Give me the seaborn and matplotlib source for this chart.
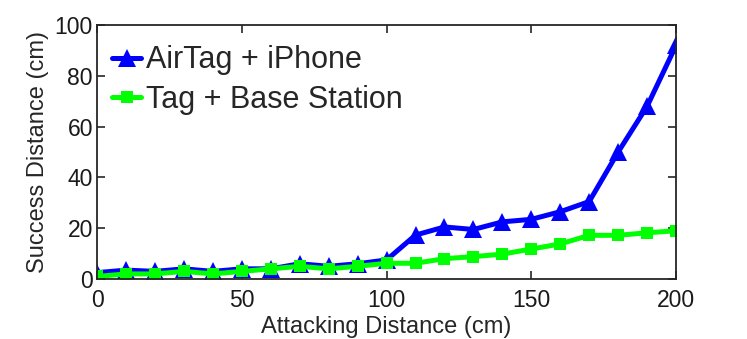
import pandas as pd
import seaborn as sns
import matplotlib.pyplot as plt

# Data
distance = [0, 10, 20, 30, 40, 50, 60, 70, 80, 90, 100,
            110, 120, 130, 140, 150, 160, 170, 180, 190, 200]
airtag_iphone = [2.5, 3.5, 3, 4, 3, 4, 4, 6, 5, 6, 7.5,
                 17.3, 20.5, 19.5, 22.5, 23.5, 26.5, 30.5, 50, 68, 92]
tag_base = [1, 2, 2, 3, 2, 3, 4, 5, 4, 5, 6.2,
            6.2, 8, 8.8, 9.8, 11.8, 13.8, 17.2, 17.2, 18.2, 19]
series_names = ["AirTag + iPhone", "Tag + Base Station"]

df = pd.DataFrame({
    "x": distance * 2,
    "y": airtag_iphone + tag_base,
    "series": [series_names[0]] * len(distance) + [series_names[1]] * len(distance),
})

sns.set_style("ticks")
plt.rcParams["font.family"] = ["Liberation Sans", "DejaVu Sans"]

fig = plt.figure(figsize=(7.47, 3.39), dpi=100)
ax = fig.add_axes([0.130, 0.177, 0.775, 0.749])

sns.lineplot(data=df, x="x", y="y", hue="series", style="series",
             palette={series_names[0]: "#0000ff", series_names[1]: "#00ff00"},
             markers={series_names[0]: "^", series_names[1]: "s"},
             dashes=False, linewidth=3.6, markersize=12.5, markeredgewidth=0,
             ax=ax)
# squares a bit smaller than triangles
ax.lines[1].set_markersize(8.5)

ax.set_xlim(0, 200)
ax.set_ylim(0, 100)
ax.set_xticks([0, 50, 100, 150, 200])
ax.set_yticks([0, 20, 40, 60, 80, 100])
ax.tick_params(direction="in", top=True, right=True, labelsize=16.5,
               length=6, width=1.2, colors="#262626", labelcolor="#1a1a1a")
ax.tick_params(axis="x", pad=7)
ax.tick_params(axis="y", pad=3)
for s in ax.spines.values():
    s.set_visible(True)
    s.set_linewidth(1.3)
    s.set_color("#262626")
ax.set_xlabel("Attacking Distance (cm)", fontsize=17, labelpad=3)
ax.set_ylabel("Success Distance (cm)", fontsize=17, labelpad=4)

leg = ax.legend(loc="upper left", bbox_to_anchor=(0.0, 0.98), frameon=False,
                fontsize=22, handlelength=0.95, handletextpad=0.15,
                borderaxespad=0.2, labelspacing=0.3, borderpad=0.3)
leg.legend_handles[1].set_markersize(8.5)

fig.savefig("out.png", dpi=100)
